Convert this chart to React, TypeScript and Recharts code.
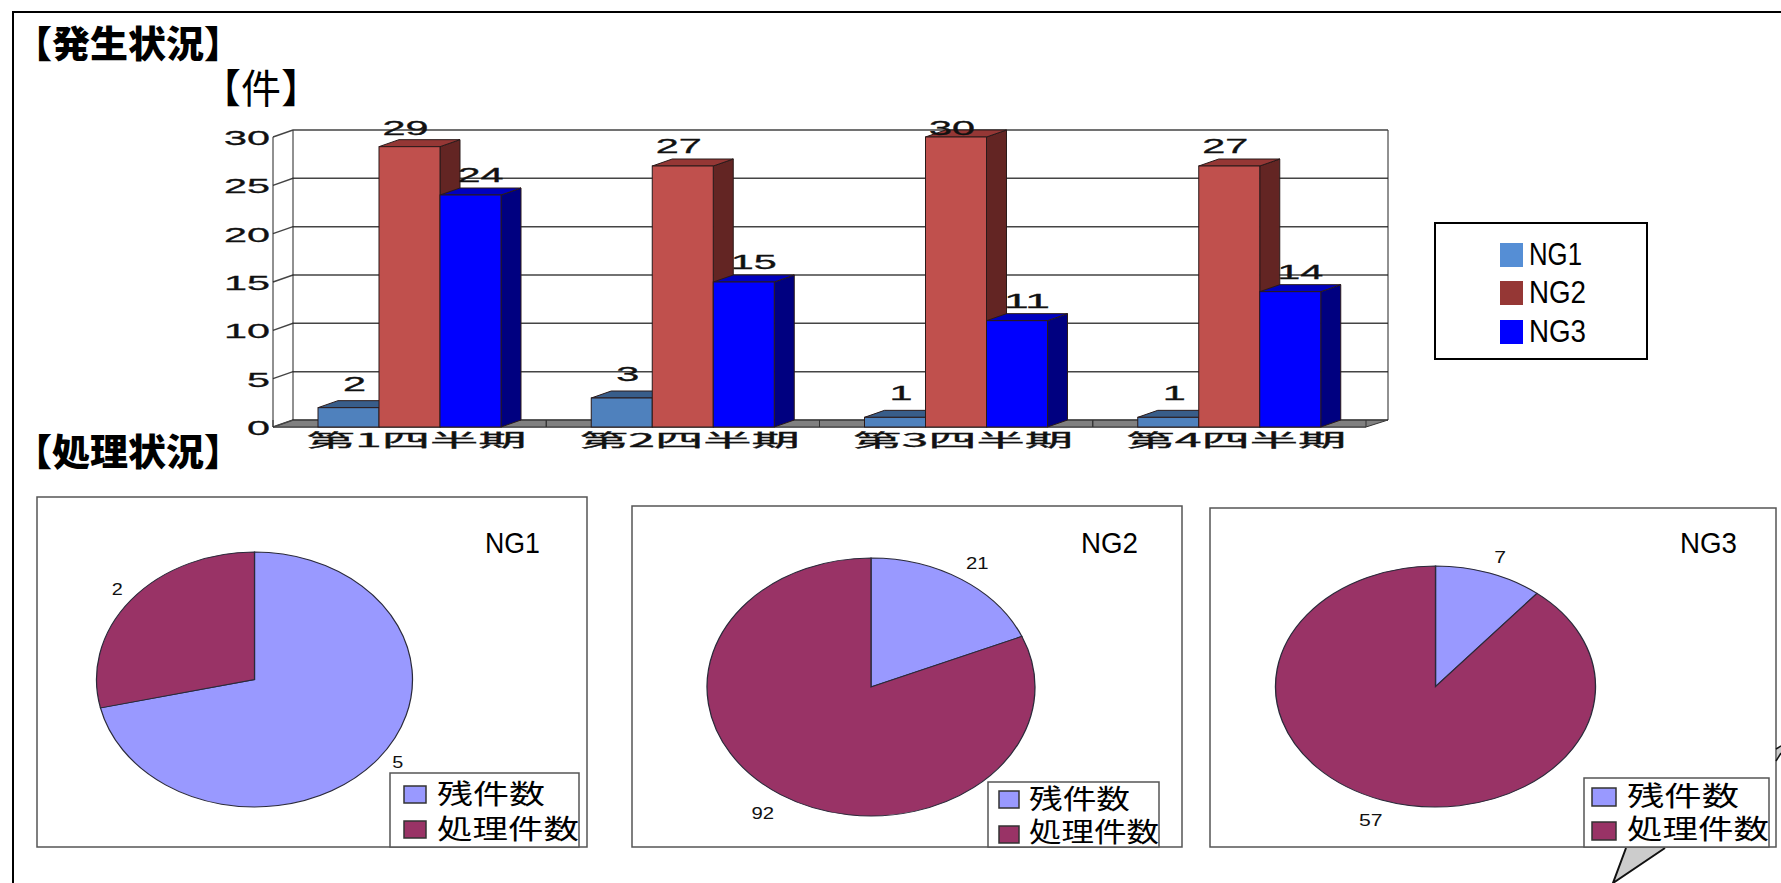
import React from 'react';
import { BarChart, Bar, XAxis, YAxis, LabelList, PieChart, Pie, Cell } from 'recharts';

const quarters = ['第1四半期', '第2四半期', '第3四半期', '第4四半期'];
const ng1Counts = [2, 3, 1, 1];
const ng2Counts = [29, 27, 30, 27];
const ng3Counts = [24, 15, 11, 14];
const yTicks = [0, 5, 10, 15, 20, 25, 30];

const pieNames = ['残件数', '処理件数'];
const pieNg1 = [5, 2];
const pieNg2 = [21, 92];
const pieNg3 = [7, 57];

const barData = quarters.map((q, i) => ({
  name: q,
  NG1: ng1Counts[i],
  NG2: ng2Counts[i],
  NG3: ng3Counts[i],
}));

const JP = '"Noto Sans CJK JP", sans-serif';
const LATIN = '"Liberation Sans", Arial, sans-serif';
const PIE_COLORS = ['#9999ff', '#993366'];

// the 3d look: how far the back wall sits from the front plane
const DEPTH_X = 20;
const DEPTH_Y = 7;
const PLOT_LEFT = 73;
const PLOT_W = 1093;

function Bar3D({ x, y, width, height, fill, topFill, sideFill }: any) {
  const dx = DEPTH_X;
  const dy = DEPTH_Y;
  const stroke = '#2a1a1a';
  return (
    <g stroke={stroke} strokeWidth={1}>
      <polygon
        points={`${x + width},${y} ${x + width + dx},${y - dy} ${x + width + dx},${y + height - dy} ${x + width},${y + height}`}
        fill={sideFill}
      />
      <polygon
        points={`${x},${y} ${x + dx},${y - dy} ${x + width + dx},${y - dy} ${x + width},${y}`}
        fill={topFill}
      />
      <rect x={x} y={y} width={width} height={height} fill={fill} />
    </g>
  );
}

function YTick({ y, payload }: any) {
  const s = String(payload.value);
  const x0 = PLOT_LEFT;
  return (
    <g>
      {payload.value === 0 && (
        <polygon
          points={`${x0},${y} ${x0 + DEPTH_X},${y - DEPTH_Y} ${x0 + PLOT_W + 22},${y - DEPTH_Y} ${x0 + PLOT_W},${y}`}
          fill="#808080"
          stroke="#333"
        />
      )}
      {payload.value === 30 && (
        <g stroke="#222" fill="none">
          <line x1={x0} y1={y} x2={x0} y2={y + 290} />
          <line x1={x0 + DEPTH_X} y1={y - DEPTH_Y} x2={x0 + DEPTH_X} y2={y - DEPTH_Y + 290} />
          <line x1={x0 + PLOT_W + 22} y1={y - DEPTH_Y} x2={x0 + PLOT_W + 22} y2={y - DEPTH_Y + 290} />
        </g>
      )}
      <polyline
        points={`${x0},${y} ${x0 + DEPTH_X},${y - DEPTH_Y} ${x0 + PLOT_W + 22},${y - DEPTH_Y}`}
        fill="none"
        stroke="#444"
        strokeWidth={1.5}
      />
      <text
        x={x0 - 3}
        y={y + 8}
        textAnchor="end"
        fontFamily={LATIN}
        fontSize={21}
        fill="#111"
        stroke="#111"
        strokeWidth={0.3}
        textLength={s.length * 23}
        lengthAdjust="spacingAndGlyphs"
      >
        {s}
      </text>
    </g>
  );
}

function XTick({ x, y, payload }: any) {
  const half = PLOT_W / 8;
  const base = 427 - 100;
  return (
    <g>
      <line x1={x - half} y1={base} x2={x - half} y2={base - DEPTH_Y} stroke="#333" />
      <line x1={x + half} y1={base} x2={x + half} y2={base - DEPTH_Y} stroke="#333" />
      <text
        x={x + 7 - 110}
        y={y + 12}
        fontFamily={JP}
        fontSize={18}
        fill="#111"
        stroke="#111"
        strokeWidth={0.3}
        textLength={220}
        lengthAdjust="spacingAndGlyphs"
      >
        {payload.value}
      </text>
    </g>
  );
}

function valueLabel(dx: number, dy: number) {
  return ({ x, y, width, value }: any) => {
    const s = String(value);
    const w = s.length * 23;
    return (
      <text
        x={x + width / 2 + dx - w / 2}
        y={Math.max(y + dy, 35)}
        fontFamily={LATIN}
        fontSize={20}
        fill="#111"
        stroke="#111"
        strokeWidth={0.3}
        textLength={w}
        lengthAdjust="spacingAndGlyphs"
      >
        {s}
      </text>
    );
  };
}

function ChartText({ x, y, w, size, children, bold, family }: any) {
  return (
    <text
      x={x}
      y={y}
      fontFamily={family || JP}
      fontSize={size}
      fontWeight={bold ? 900 : 400}
      fill="#000"
      textLength={w}
      lengthAdjust="spacingAndGlyphs"
    >
      {children}
    </text>
  );
}

function PieBlock({ values, cx, cy, rx, ry, labelAt }: any) {
  const size = Math.round(ry * 2 + 90);
  const data = pieNames.map((name, i) => ({ name, value: values[i] }));
  const renderLabel = ({ cx: px, cy: py, midAngle, outerRadius, value, index }: any) => {
    const a = (midAngle * Math.PI) / 180;
    const [kx, ky] = labelAt[index];
    return (
      <text
        x={px + outerRadius * kx * Math.cos(a)}
        y={py - outerRadius * ky * Math.sin(a) + 6}
        textAnchor="middle"
        fontFamily={LATIN}
        fontSize={16}
        fill="#111"
      >
        {value}
      </text>
    );
  };
  return (
    <div
      style={{
        position: 'absolute',
        left: cx - size / 2,
        top: cy - size / 2,
        width: size,
        height: size,
        transform: `scaleX(${rx / ry})`,
      }}
    >
      <PieChart width={size} height={size} margin={{ top: 0, right: 0, bottom: 0, left: 0 }}>
        <Pie
          data={data}
          dataKey="value"
          cx="50%"
          cy="50%"
          outerRadius={ry}
          startAngle={90}
          endAngle={-270}
          stroke="#2a2a3a"
          strokeWidth={1}
          label={renderLabel}
          labelLine={false}
          isAnimationActive={false}
        >
          {data.map((d, i) => (
            <Cell key={d.name} fill={PIE_COLORS[i]} />
          ))}
        </Pie>
      </PieChart>
    </div>
  );
}

function PieLegend({ x, y, w, swatchX, swatchW, swatchYs, swatchH, textX, textWs, textYs }: any) {
  return (
    <g>
      <rect x={x} y={y} width={w} height={847 - y} fill="#fff" stroke="#555" strokeWidth={1.5} />
      {pieNames.map((name, i) => (
        <g key={name}>
          <rect x={swatchX} y={swatchYs[i]} width={swatchW} height={swatchH} fill={PIE_COLORS[i]} stroke="#333" strokeWidth={1.5} />
          <ChartText x={textX} y={textYs[i]} w={textWs[i]} size={27}>
            {name}
          </ChartText>
        </g>
      ))}
    </g>
  );
}

export default function App() {
  return (
    <div style={{ position: 'absolute', left: 0, top: 0, width: 1781, height: 883, overflow: 'hidden', background: '#fff' }}>
      {/* frame, callout scraps and pie boxes */}
      <svg width={1781} height={883} style={{ position: 'absolute', left: 0, top: 0 }}>
        <polyline points="13,883 13,12 1781,12" fill="none" stroke="#000" strokeWidth={2} />
        <rect x={37} y={497} width={550} height={350} fill="#fff" stroke="#555" strokeWidth={1.5} />
        <rect x={632} y={506} width={550} height={341} fill="#fff" stroke="#555" strokeWidth={1.5} />
        <rect x={1210} y={508} width={566} height={339} fill="#fff" stroke="#555" strokeWidth={1.5} />
        <polygon points="1626,848 1665,848 1613,883" fill="#cccccc" />
        <polyline points="1626,848 1613,883 1665,848" fill="none" stroke="#111" strokeWidth={2} />
        <polygon points="1777,749 1781,746 1781,752 1777,760" fill="#cccccc" />
        <line x1={1776} y1={749} x2={1781} y2={746} stroke="#111" strokeWidth={1.5} />
        <line x1={1776} y1={761} x2={1781} y2={753} stroke="#111" strokeWidth={1.5} />
        <ChartText x={14} y={58} w={228} size={37} bold>
          【発生状況】
        </ChartText>
        <ChartText x={14} y={466} w={228} size={37} bold>
          【処理状況】
        </ChartText>
        <ChartText x={201} y={103} w={120} size={40}>
          【件】
        </ChartText>
        <rect x={1435} y={223} width={212} height={136} fill="#fff" stroke="#000" strokeWidth={2} />
        <rect x={1500} y={243} width={23} height={24} fill="#558ed5" />
        <rect x={1500} y={281} width={23} height={24} fill="#953735" />
        <rect x={1500} y={320} width={23} height={24} fill="#0000ff" />
        <ChartText x={1529} y={265} w={53} size={31} family={LATIN}>NG1</ChartText>
        <ChartText x={1529} y={303} w={57} size={31} family={LATIN}>NG2</ChartText>
        <ChartText x={1529} y={342} w={57} size={31} family={LATIN}>NG3</ChartText>
        <ChartText x={485} y={553} w={55} size={30} family={LATIN}>NG1</ChartText>
        <ChartText x={1081} y={553} w={57} size={30} family={LATIN}>NG2</ChartText>
        <ChartText x={1680} y={553} w={57} size={30} family={LATIN}>NG3</ChartText>
      </svg>

      {/* axes and walls in their own chart so the bars always paint over them */}
      <div style={{ position: 'absolute', left: 200, top: 100 }}>
        <BarChart width={1230} height={370} data={barData} margin={{ top: 37, right: 64, bottom: 13, left: 13 }}>
          <YAxis type="number" domain={[0, 30]} ticks={yTicks} width={60} axisLine={false} tickLine={false} interval={0} tick={YTick} />
          <XAxis dataKey="name" height={30} axisLine={{ stroke: '#222' }} tickLine={false} interval={0} tick={XTick} />
          <Bar dataKey="NG2" isAnimationActive={false} shape={() => null} />
        </BarChart>
      </div>

      <div style={{ position: 'absolute', left: 200, top: 100 }}>
        <BarChart
          width={1230}
          height={370}
          data={barData}
          barCategoryGap={45}
          barGap={0}
          margin={{ top: 37, right: 64, bottom: 43, left: 73 }}
        >
          <YAxis hide type="number" domain={[0, 30]} />
          <XAxis hide dataKey="name" />
          <Bar dataKey="NG1" isAnimationActive={false} shape={(p: any) => <Bar3D {...p} fill="#4f81bd" topFill="#385d8a" sideFill="#2f4f78" />}>
            <LabelList dataKey="NG1" content={valueLabel(6, -17)} />
          </Bar>
          <Bar dataKey="NG2" isAnimationActive={false} shape={(p: any) => <Bar3D {...p} fill="#c0504d" topFill="#953735" sideFill="#632523" />}>
            <LabelList dataKey="NG2" content={valueLabel(-4, -13)} />
          </Bar>
          <Bar dataKey="NG3" isAnimationActive={false} shape={(p: any) => <Bar3D {...p} fill="#0000ff" topFill="#0000c0" sideFill="#000080" />}>
            <LabelList dataKey="NG3" content={valueLabel(10, -13)} />
          </Bar>
        </BarChart>
      </div>

      <PieBlock values={pieNg1} cx={254.5} cy={679} rx={158} ry={127.5} labelAt={[[1.16, 1.04], [1.11, 1.14]]} />
      <PieBlock values={pieNg2} cx={871} cy={687} rx={164} ry={129} labelAt={[[1.175, 1.15], [1.197, 1.17]]} />
      <PieBlock values={pieNg3} cx={1435} cy={686} rx={160} ry={120.5} labelAt={[[1.2, 1.14], [1.2, 1.176]]} />

      {/* pie legends sit on top of the pies */}
      <svg width={1781} height={883} style={{ position: 'absolute', left: 0, top: 0, pointerEvents: 'none' }}>
        <PieLegend x={390} y={773} w={189} swatchX={404} swatchW={22} swatchYs={[786, 821]} swatchH={17} textX={437} textWs={[108, 142]} textYs={[804, 839]} />
        <PieLegend x={988} y={782} w={171} swatchX={999} swatchW={20} swatchYs={[791, 826]} swatchH={17} textX={1029} textWs={[101, 130]} textYs={[809, 842]} />
        <PieLegend x={1584} y={778} w={185} swatchX={1592} swatchW={24} swatchYs={[788, 822]} swatchH={18} textX={1627} textWs={[112, 142]} textYs={[806, 839]} />
      </svg>
    </div>
  );
}
